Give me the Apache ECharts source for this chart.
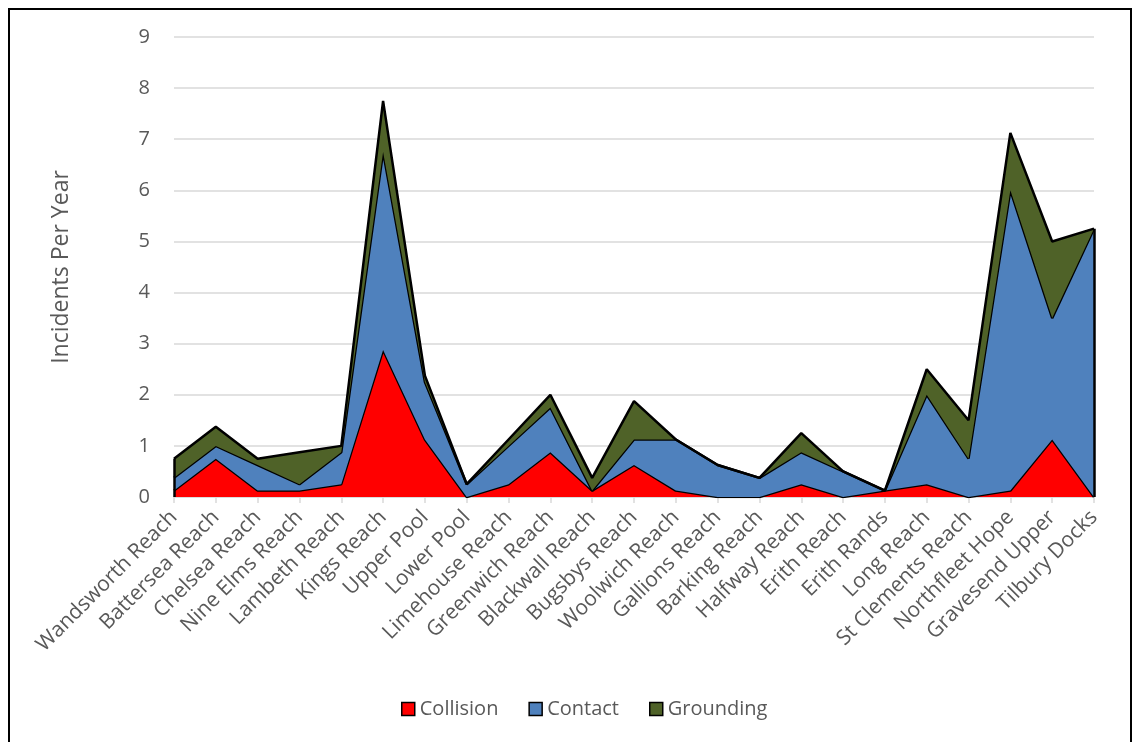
<!DOCTYPE html>
<html>
<head>
<meta charset="utf-8">
<script src="https://cdn.jsdelivr.net/npm/echarts@6/dist/echarts.min.js"></script>
<style>
  html, body { margin: 0; padding: 0; background: #ffffff; }
  #frame { position: absolute; left: 8px; top: 8px; width: 1124px; height: 760px; border: 2px solid #000; box-sizing: border-box; }
  #chart { position: absolute; left: 0; top: 0; width: 1137px; height: 742px; }
</style>
</head>
<body>
<div id="frame"></div>
<div id="chart"></div>
<script>
// Reaches of the tidal Thames, upstream to downstream
const reaches = [
  'Wandsworth Reach', 'Battersea Reach', 'Chelsea Reach', 'Nine Elms Reach', 'Lambeth Reach',
  'Kings Reach', 'Upper Pool', 'Lower Pool', 'Limehouse Reach', 'Greenwich Reach',
  'Blackwall Reach', 'Bugsbys Reach', 'Woolwich Reach', 'Gallions Reach', 'Barking Reach',
  'Halfway Reach', 'Erith Reach', 'Erith Rands', 'Long Reach', 'St Clements Reach',
  'Northfleet Hope', 'Gravesend Upper', 'Tilbury Docks'
];

// Incidents per year by type
const collision = [0.125, 0.75, 0.125, 0.125, 0.25, 2.875, 1.125, 0, 0.25, 0.875, 0.125, 0.625,
  0.125, 0, 0, 0.25, 0, 0.125, 0.25, 0, 0.125, 1.125, 0];
const contact = [0.25, 0.25, 0.5, 0.125, 0.625, 3.875, 1.125, 0.25, 0.75, 0.875, 0, 0.5,
  1.0, 0.625, 0.375, 0.625, 0.5, 0, 1.75, 0.75, 5.875, 2.375, 5.25];
const grounding = [0.375, 0.375, 0.125, 0.625, 0.125, 1.0, 0.125, 0, 0.125, 0.25, 0.25, 0.75,
  0, 0, 0, 0.375, 0, 0, 0.5, 0.75, 1.125, 1.5, 0];

const seriesNames = ['Collision', 'Contact', 'Grounding'];
const seriesColors = ['#FF0000', '#4F81BD', '#4F6228'];

const FONT = '"Open Sans", sans-serif';
const TEXT = '#595959';

// Closing edges of the stacked block at both ends of the river
const totals = reaches.map((_, i) => collision[i] + contact[i] + grounding[i]);
const first = 0, last = reaches.length - 1;
const edgeLines = [
  [{ coord: [reaches[first], 0] }, { coord: [reaches[first], totals[first]] }],
  [{ coord: [reaches[last], 0] }, { coord: [reaches[last], totals[last]] }]
];

function areaSeries(name, values, color, idx) {
  const s = {
    name: name,
    type: 'line',
    stack: 'incidents',
    data: values,
    symbol: 'none',
    smooth: false,
    z: 2 + idx,
    lineStyle: { color: '#000', width: 2.5 },
    areaStyle: { color: color, opacity: 1 },
    itemStyle: { color: color, borderColor: '#000', borderWidth: 1 },
    emphasis: { disabled: true }
  };
  if (idx === 0) {
    s.markLine = {
      silent: true,
      symbol: 'none',
      label: { show: false },
      lineStyle: { color: '#000', width: 2.5, type: 'solid' },
      data: edgeLines
    };
  }
  return s;
}

const chart = echarts.init(document.getElementById('chart'), null, { renderer: 'canvas' });
chart.setOption({
  animation: false,
  backgroundColor: 'transparent',
  textStyle: { fontFamily: FONT },
  grid: { left: 174, right: 43, top: 37, bottom: 245, containLabel: false },
  legend: {
    data: seriesNames,
    top: 694,
    left: 396,
    icon: 'rect',
    itemWidth: 13,
    itemHeight: 13,
    itemGap: 30,
    itemStyle: { borderColor: '#000', borderWidth: 1.5 },
    textStyle: { fontFamily: FONT, fontSize: 20, color: TEXT }
  },
  xAxis: {
    type: 'category',
    data: reaches,
    boundaryGap: false,
    axisLine: { lineStyle: { color: '#D9D9D9', width: 1.5 } },
    axisTick: { show: true, length: 6, alignWithLabel: true, lineStyle: { color: '#D9D9D9', width: 1.5 } },
    axisLabel: { rotate: 45, interval: 0, margin: 17, fontFamily: FONT, fontSize: 21, color: TEXT },
    splitLine: { show: false }
  },
  yAxis: {
    type: 'value',
    min: 0,
    max: 9,
    interval: 1,
    name: 'Incidents Per Year',
    nameLocation: 'middle',
    nameGap: 101,
    nameTextStyle: { fontFamily: FONT, fontSize: 23, color: TEXT },
    axisLine: { show: false },
    axisTick: { show: false },
    axisLabel: { margin: 24, fontFamily: FONT, fontSize: 20, color: TEXT },
    splitLine: { lineStyle: { color: '#D9D9D9', width: 1.5 } }
  },
  series: [
    areaSeries(seriesNames[0], collision, seriesColors[0], 0),
    areaSeries(seriesNames[1], contact, seriesColors[1], 1),
    areaSeries(seriesNames[2], grounding, seriesColors[2], 2)
  ]
});
</script>
</body>
</html>
